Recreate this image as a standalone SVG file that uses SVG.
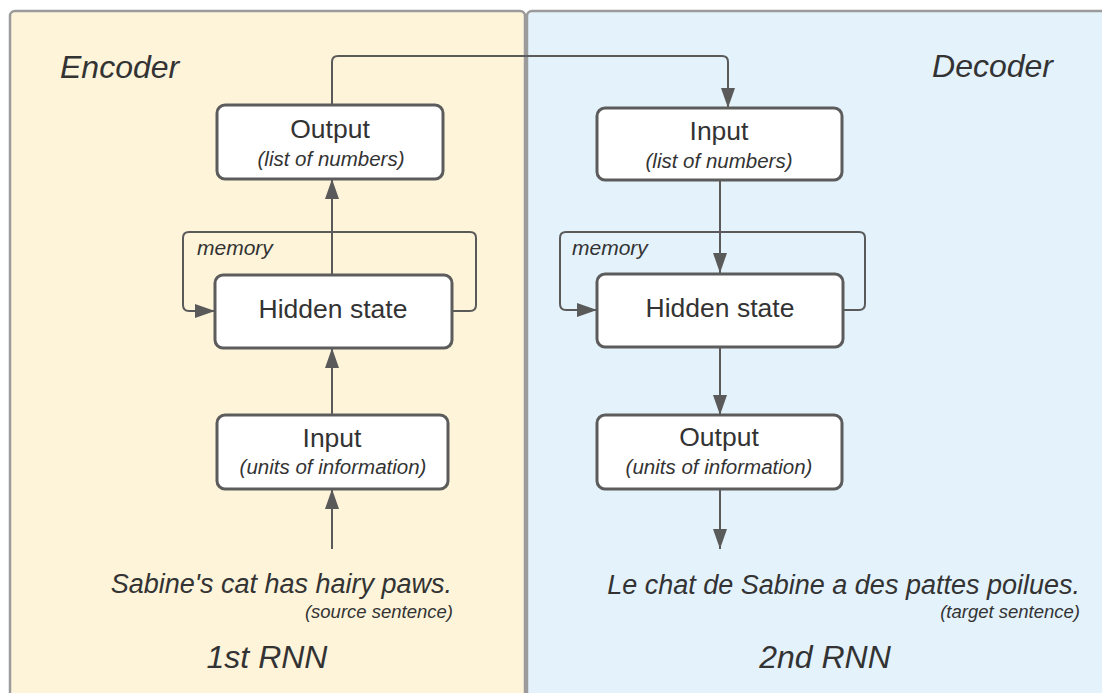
<svg xmlns="http://www.w3.org/2000/svg" width="1102" height="693" viewBox="0 0 1102 693">
<defs>
<marker id="ah" markerUnits="userSpaceOnUse" markerWidth="22" markerHeight="16" refX="20" refY="7" orient="auto">
<path d="M0,0 L20,7 L0,14 Z" fill="#5a5a5a"/>
</marker>
<style>
.panel{stroke:#9b9b9b;stroke-width:2.5}
.box{fill:#ffffff;stroke:#5c5c5c;stroke-width:3}
.t{font-family:"Liberation Sans",Arial,sans-serif;fill:#333333;text-anchor:middle}
.title{font-size:26.5px}
.sub{font-size:20.5px;font-style:italic}
.it{font-family:"Liberation Sans",Arial,sans-serif;fill:#333333;font-style:italic}
.conn{fill:none;stroke:#5a5a5a;stroke-width:2}
</style>
</defs>
<rect width="1102" height="693" fill="#ffffff"/>
<g id="encoder-panel">
<rect class="panel" x="10" y="11" width="515" height="700" rx="5" fill="#fdf4da"/>
<text class="it" x="60" y="78" font-size="32">Encoder</text>
<text class="it" x="452" y="593" font-size="27" text-anchor="end">Sabine's cat has hairy paws.</text>
<text class="it" x="453" y="618" font-size="18.5" text-anchor="end">(source sentence)</text>
<text class="it" x="267" y="668" font-size="32" text-anchor="middle">1st RNN</text>
<text class="it" x="197" y="255" font-size="21">memory</text>
</g>
<g id="decoder-panel">
<rect class="panel" x="527" y="11" width="590" height="700" rx="5" fill="#e3f2fb"/>
<text class="it" x="1053" y="77" font-size="32" text-anchor="end">Decoder</text>
<text class="it" x="1080" y="594" font-size="27" text-anchor="end">Le chat de Sabine a des pattes poilues.</text>
<text class="it" x="1080" y="618" font-size="18.5" text-anchor="end">(target sentence)</text>
<text class="it" x="825" y="668" font-size="32" text-anchor="middle">2nd RNN</text>
<text class="it" x="572" y="255" font-size="21">memory</text>
</g>
<g id="connectors">
<path class="conn" d="M332,105 V62 Q332,56 338,56 H722 Q728,56 728,62 V108" marker-end="url(#ah)"/>
<path class="conn" d="M332,274 V179" marker-end="url(#ah)"/>
<path class="conn" d="M332,415 V348" marker-end="url(#ah)"/>
<path class="conn" d="M332,549 V489" marker-end="url(#ah)"/>
<path class="conn" d="M452,311 H470 Q476,311 476,305 V238 Q476,232 470,232 H189 Q183,232 183,238 V305 Q183,311 189,311 H215" marker-end="url(#ah)"/>
<path class="conn" d="M720,180 V273" marker-end="url(#ah)"/>
<path class="conn" d="M720,347 V415" marker-end="url(#ah)"/>
<path class="conn" d="M720,489 V549" marker-end="url(#ah)"/>
<path class="conn" d="M843,310 H859 Q865,310 865,304 V238 Q865,232 859,232 H566 Q560,232 560,238 V304 Q560,310 566,310 H597" marker-end="url(#ah)"/>
</g>
<g id="enc-output">
<rect class="box" x="217" y="105" width="226" height="74" rx="8"/>
<text class="t title" x="330" y="138">Output</text>
<text class="t sub" x="331" y="166">(list of numbers)</text>
</g>
<g id="enc-hidden">
<rect class="box" x="215" y="275" width="237" height="73" rx="8"/>
<text class="t title" x="333" y="318">Hidden state</text>
</g>
<g id="enc-input">
<rect class="box" x="217" y="415" width="231" height="74" rx="8"/>
<text class="t title" x="332" y="447">Input</text>
<text class="t sub" x="333" y="474">(units of information)</text>
</g>
<g id="dec-input">
<rect class="box" x="597" y="108" width="245" height="72" rx="8"/>
<text class="t title" x="719" y="140">Input</text>
<text class="t sub" x="719" y="168">(list of numbers)</text>
</g>
<g id="dec-hidden">
<rect class="box" x="597" y="274" width="246" height="73" rx="8"/>
<text class="t title" x="720" y="317">Hidden state</text>
</g>
<g id="dec-output">
<rect class="box" x="597" y="415" width="245" height="74" rx="8"/>
<text class="t title" x="719" y="446">Output</text>
<text class="t sub" x="719" y="474">(units of information)</text>
</g>
</svg>
